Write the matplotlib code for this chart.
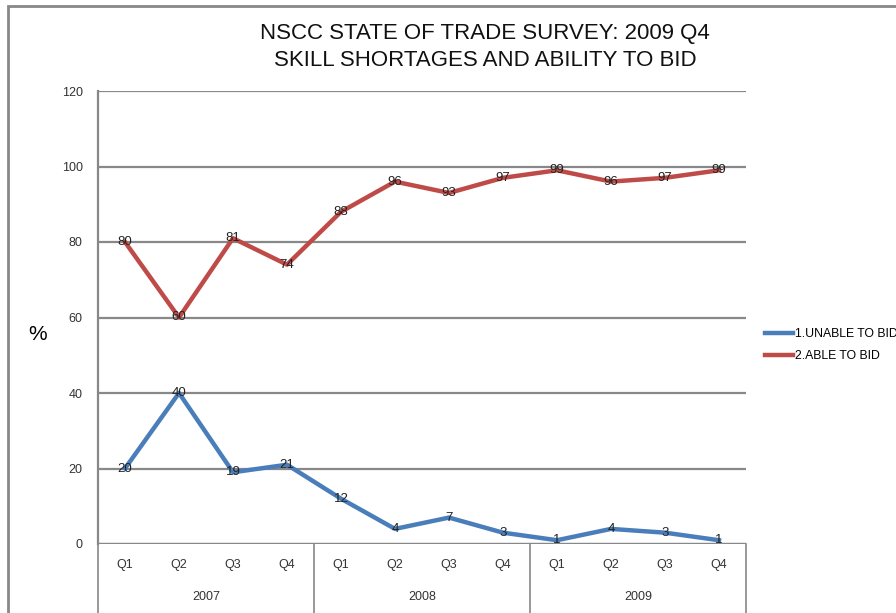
import matplotlib.pyplot as plt
from matplotlib.patches import Rectangle
import matplotlib.transforms as mtransforms

quarters = ['Q1', 'Q2', 'Q3', 'Q4'] * 3
years = ['2007', '2008', '2009']
unable = [20, 40, 19, 21, 12, 4, 7, 3, 1, 4, 3, 1]
able = [80, 60, 81, 74, 88, 96, 93, 97, 99, 96, 97, 99]

plt.rcParams['font.family'] = ['Liberation Sans', 'DejaVu Sans']

fig = plt.figure(figsize=(8.96, 6.13), dpi=100)
ax = fig.add_axes([98 / 896, 1 - 544 / 613, (746 - 98) / 896, (544 - 91) / 613])

# outer chart border (cut off at right and bottom like the original)
fig.patches.append(Rectangle((8 / 896, -0.1), 1.2, 1 - 6 / 613 + 0.1,
                             transform=fig.transFigure, fill=False,
                             edgecolor='#888888', linewidth=2))

x = list(range(len(quarters)))
ax.plot(x, unable, color='#4a7ebb', linewidth=3.2, label='1.UNABLE TO BID')
ax.plot(x, able, color='#be4b48', linewidth=3.2, label='2.ABLE TO BID')

for xi, v in zip(x, unable):
    ax.text(xi, v, str(v), ha='center', va='center', fontsize=9.5, color='#222222')
for xi, v in zip(x, able):
    ax.text(xi, v, str(v), ha='center', va='center', fontsize=9.5, color='#222222')

ax.set_xlim(-0.5, 11.5)
ax.set_ylim(0, 120)
ax.set_yticks(range(0, 121, 20))
ax.tick_params(axis='y', length=0, pad=11, labelsize=9, labelcolor='#333333')
ax.set_xticks([])
ax.grid(axis='y', color='#888888', linewidth=1.6)
ax.set_axisbelow(True)
for s in ['top', 'right', 'bottom']:
    ax.spines[s].set_visible(False)
ax.spines['left'].set_color('#888888')
ax.spines['left'].set_linewidth(1.6)
ax.axhline(0, color='#888888', linewidth=1.6, zorder=1)

# multi-level category axis
trans = mtransforms.blended_transform_factory(ax.transData, ax.transAxes)
for xi, q in zip(x, quarters):
    ax.text(xi, -0.046, q, transform=trans, ha='center', va='center',
            fontsize=9, color='#333333')
for i, yr in enumerate(years):
    ax.text(i * 4 + 1.5, -0.117, yr, transform=trans, ha='center', va='center',
            fontsize=9, color='#333333')
for b in [-0.5, 3.5, 7.5, 11.5]:
    ax.plot([b, b], [0, -0.2], transform=trans, color='#888888',
            linewidth=1.2, clip_on=False)

fig.text(38 / 896, 1 - 335 / 613, '%', ha='center', va='center', fontsize=15)
fig.text(485 / 896, 1 - 33 / 613, 'NSCC STATE OF TRADE SURVEY: 2009 Q4',
         ha='center', va='center', fontsize=16, color='#111111')
fig.text(485 / 896, 1 - 60 / 613, 'SKILL SHORTAGES AND ABILITY TO BID',
         ha='center', va='center', fontsize=16, color='#111111')

fig.legend(loc='center left', bbox_to_anchor=(765 / 896, 1 - 345 / 613),
           frameon=False, fontsize=8.8, handlelength=2.3, handletextpad=0.15,
           labelspacing=0.8, borderaxespad=0, borderpad=0)

fig.savefig('out.png', dpi=100)
